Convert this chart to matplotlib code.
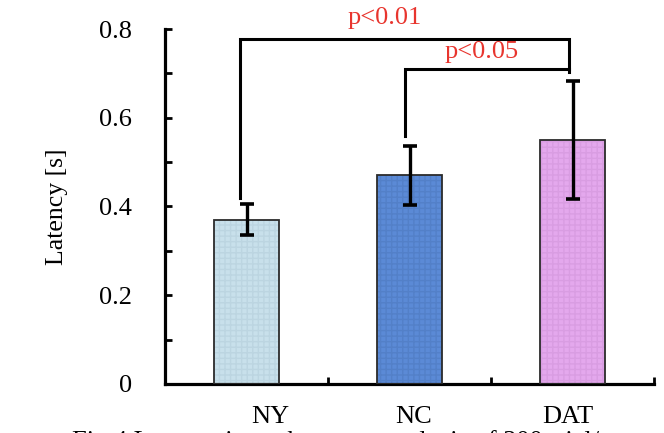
import numpy as np
import matplotlib.pyplot as plt
from matplotlib.ticker import FixedLocator
from matplotlib.transforms import ScaledTranslation

plt.rcParams['font.family'] = ['Liberation Serif', 'DejaVu Serif']

groups = ['NY', 'NC', 'DAT']
latency = [0.37, 0.47, 0.55]
errors = [0.035, 0.067, 0.133]
yticks = [0, 0.2, 0.4, 0.6, 0.8]
yticklabels = ['0', '0.2', '0.4', '0.6', '0.8']
fill_colors = ['#c8e0eb', '#5b8ad6', '#e4a8ed']
hatch_colors = ['#bcd5e1', '#5380c8', '#d99de2']

fig = plt.figure(figsize=(6.64, 4.33), dpi=100)
ax = fig.add_axes([0.2485, 0.1132, 0.7365, 0.8198])

x = np.arange(len(groups))
# fill with a faint grid texture, then outline on top
for i in range(len(groups)):
    ax.bar(x[i], latency[i], width=0.4, color=fill_colors[i], edgecolor=hatch_colors[i],
           hatch='+++', linewidth=0, zorder=2)
ax.bar(x, latency, width=0.4, fill=False, edgecolor='#2b2b2b', linewidth=1.3, zorder=3)
ax.errorbar(x, latency, yerr=errors, fmt='none', ecolor='black', elinewidth=2.4,
            capsize=5, capthick=2.6, zorder=4)

# significance brackets
lw = 2.2
ax.plot([-0.04, -0.04, 1.98, 1.98], [0.42, 0.777, 0.777, 0.703], color='black',
        lw=lw, clip_on=False, solid_joinstyle='miter', zorder=5)
ax.plot([0.97, 0.97, 1.98], [0.559, 0.71, 0.71], color='black',
        lw=lw, clip_on=False, solid_joinstyle='miter', zorder=5)
ax.text(0.85, 0.824, 'p<0.01', color='#e8352e', fontsize=19, ha='center', va='center',
        clip_on=False)
ax.text(1.44, 0.748, 'p<0.05', color='#e8352e', fontsize=19, ha='center', va='center',
        clip_on=False)

ax.set_xlim(-0.5, 2.5)
ax.set_ylim(0, 0.8)
ax.set_ylabel('Latency [s]', fontsize=18.5, labelpad=22)

ax.spines['top'].set_visible(False)
ax.spines['right'].set_visible(False)
ax.spines['left'].set_linewidth(2.3)
ax.spines['bottom'].set_linewidth(2.3)

ax.set_yticks(yticks)
ax.set_yticklabels(yticklabels)
ax.yaxis.set_minor_locator(FixedLocator([0.1, 0.3, 0.5, 0.7]))
ax.tick_params(axis='y', which='both', direction='in', length=5, width=2, labelsize=19, pad=24)

ax.set_xticks(x)
ax.set_xticklabels(groups)
ax.xaxis.set_minor_locator(FixedLocator([0.5, 1.5, 2.5]))
ax.tick_params(axis='x', which='major', length=0, labelsize=19, pad=16)
ax.tick_params(axis='x', which='minor', direction='in', length=5, width=2)

shifts = [0.24, 0.04, -0.05]
for lab, s in zip(ax.get_xticklabels(), shifts):
    lab.set_transform(lab.get_transform() + ScaledTranslation(s, 0, fig.dpi_scale_trans))

fig.text(72 / 664, 0.008, 'Fig.4 Latency in each group: analysis of 300 trial/s',
         fontsize=19, ha='left', va='top')

fig.savefig('out.png', dpi=100)
